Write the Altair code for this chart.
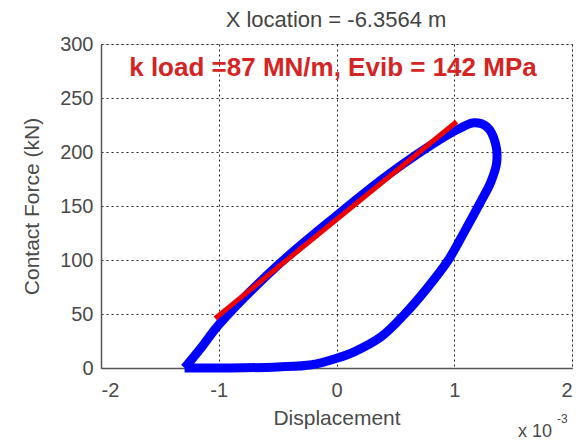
import altair as alt
import pandas as pd

# Hysteresis loop (displacement in units of 1e-3, force in kN)
loop_disp = [-1.29, -1.14, -1.0, -0.5, 0.0, 0.44, 0.9, 1.05, 1.17, 1.28, 1.35, 1.36, 1.31, 1.23, 1.09, 0.95, 0.77, 0.58, 0.38, 0.15, 0.0, -0.21, -0.5, -0.9, -1.2, -1.29]
loop_force = [0.0, 20.0, 40.0, 95.0, 141.0, 179.0, 213.0, 222.0, 227.0, 223.0, 208.0, 190.0, 172.0, 155.0, 127.0, 100.0, 74.0, 50.0, 29.0, 15.0, 9.0, 3.0, 1.0, 0.0, 0.0, 0.0]

# Fitted loading stiffness line
fit_disp = [-1.03, 1.02]
fit_force = [46.0, 228.0]

title_text = "X location = -6.3564 m"
annot_text = "k load =87 MN/m, Evib = 142 MPa"
x_ticks = [-2, -1, 0, 1, 2]
y_ticks = [0, 50, 100, 150, 200, 250, 300]

loop_df = pd.DataFrame({"d": loop_disp, "f": loop_force, "o": list(range(len(loop_disp)))})
fit_df = pd.DataFrame({"d": fit_disp, "f": fit_force})

FONT = "Liberation Sans"
TXT = "#4a4a4a"

xscale = alt.Scale(domain=[-2, 2], nice=False)
yscale = alt.Scale(domain=[0, 300], nice=False)

xaxis = alt.Axis(values=x_ticks, title="Displacement", labelExpr="datum.value",
                 labelPadding=12, titleY=50, titleBaseline="middle")
yaxis = alt.Axis(values=y_ticks, title="Contact Force (kN)",
                 labelPadding=8, titleX=-69, titleY=162, titleAngle=-90,
                 titleAlign="center", titleBaseline="middle")

X = alt.X("d:Q", scale=xscale, axis=xaxis)
Y = alt.Y("f:Q", scale=yscale, axis=yaxis)

loop = alt.Chart(loop_df).mark_line(color="#0000ff", strokeWidth=9,
                                    interpolate="catmull-rom", strokeJoin="round").encode(
    x=X, y=Y, order="o:Q",
)

fit = alt.Chart(fit_df).mark_line(color="#ee0000", strokeWidth=5).encode(x=X, y=Y)

annot = alt.Chart(pd.DataFrame({"d": [-0.03], "f": [278], "t": [annot_text]})).mark_text(
    font=FONT, fontSize=26, fontWeight="bold", color="#d42424", baseline="middle", align="center"
).encode(x=X, y=Y, text="t:N")

title = alt.Chart(pd.DataFrame({"t": [title_text]})).mark_text(
    font=FONT, fontSize=22, color="#444", align="center", baseline="middle"
).encode(x=alt.value(235), y=alt.value(-24), text="t:N")

exp_base = alt.Chart(pd.DataFrame({"t": ["x 10"]})).mark_text(
    font=FONT, fontSize=18, color=TXT, align="left", baseline="middle"
).encode(x=alt.value(417), y=alt.value(388), text="t:N")
exp_sup = alt.Chart(pd.DataFrame({"t": ["-3"]})).mark_text(
    font=FONT, fontSize=12, color=TXT, align="left", baseline="middle"
).encode(x=alt.value(456), y=alt.value(375), text="t:N")

chart = alt.layer(loop, fit, annot, title, exp_base, exp_sup).properties(
    width=471, height=324,
    autosize=alt.AutoSizeParams(type="none"),
    padding={"left": 101, "top": 44, "right": 8, "bottom": 75},
).configure_view(stroke="#555", strokeWidth=1.5).configure(background="white").configure_axis(
    grid=True, gridDash=[2, 3], gridColor="#000", gridOpacity=0.85, gridWidth=1,
    tickSize=0, labelFontSize=20, labelColor=TXT, labelFont=FONT,
    titleFont=FONT, titleFontSize=21, titleColor=TXT, titleFontWeight="normal",
    domainColor="#555", domainWidth=1.5,
)

chart.save("out.html", embed_options={"renderer": "svg", "actions": False})
